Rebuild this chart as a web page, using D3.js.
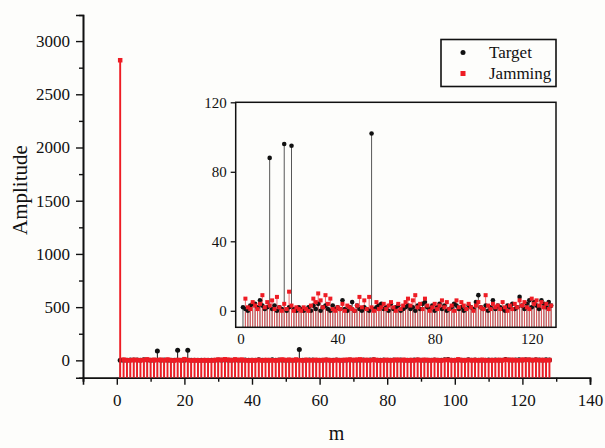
<!DOCTYPE html>
<html>
<head>
<meta charset="utf-8">
<script src="https://cdn.jsdelivr.net/npm/d3@7"></script>
<style>
  body { margin: 0; background: #fdfdfb; }
  svg { display: block; }
  svg text { font-family: "Liberation Serif", "DejaVu Serif", "Times New Roman", serif !important; fill: #111; }
</style>
</head>
<body>
<svg id="chart" width="605" height="448"></svg>
<script>
"use strict"

// m = 1..128
const target = [
    2, 1, 0, 3, 4, 4, 2, 6, 3, 1, 2, 88, 1, 3, 0, 2,
    1, 96, 0, 2, 95, 1, 0, 2, 1, 0, 1, 2, 0, 3, 1, 4,
    0, 2, 3, 1, 0, 3, 1, 2, 1, 6, 1, 0, 2, 5, 0, 3,
    1, 0, 2, 1, 0, 102, 1, 2, 3, 4, 1, 2, 0, 4, 1, 2,
    3, 0, 1, 2, 3, 1, 2, 0, 3, 1, 4, 5, 2, 1, 3, 0,
    2, 4, 1, 3, 0, 1, 2, 4, 3, 1, 2, 0, 1, 3, 2, 1,
    5, 9, 2, 1, 3, 0, 2, 6, 1, 3, 2, 1, 0, 3, 2, 4,
    1, 2, 8, 3, 1, 4, 6, 2, 5, 3, 1, 6, 4, 2, 5, 3
]
const jamming = [
    2820, 7, 2, 1, 5, 3, 1, 4, 9, 2, 5, 3, 6, 1, 8, 2,
    0, 4, 1, 11, 3, 0, 2, 1, 0, 2, 1, 0, 3, 7, 5, 10,
    6, 2, 9, 4, 7, 1, 0, 2, 1, 4, 0, 3, 2, 1, 0, 3,
    8, 2, 6, 1, 8, 2, 0, 5, 1, 2, 4, 1, 3, 5, 2, 0,
    4, 1, 3, 5, 7, 3, 6, 9, 2, 4, 1, 7, 3, 0, 2, 4,
    1, 3, 6, 2, 5, 1, 3, 0, 6, 2, 5, 3, 1, 4, 2, 0,
    3, 5, 2, 1, 9, 3, 1, 4, 2, 3, 1, 5, 2, 0, 3, 1,
    4, 2, 6, 3, 5, 2, 1, 7, 4, 6, 3, 5, 2, 4, 1, 3
]
const mainXTicks = [0, 20, 40, 60, 80, 100, 120, 140]
const mainYTicks = [0, 500, 1000, 1500, 2000, 2500, 3000]
const insetXTicks = [0, 40, 80, 120]
const insetYTicks = [0, 40, 80, 120]
const seriesNames = ["Target", "Jamming"]

const RED = "#ee1c24"
const BLACK = "#111"
const FONT = "'Liberation Serif', 'DejaVu Serif', serif"

const svg = d3.select("#chart")

const targetData = target.map((v, i) => ({ m: i + 1, v: v }))
const jammingData = jamming.map((v, i) => ({ m: i + 1, v: v }))

// ---------- main plot ----------
const x = d3.scaleLinear().domain([-10, 140]).range([83, 590])
const y = d3.scaleLinear().domain([-163, 3245]).range([377.7, 15])

function axisWithMinors(g, axisFn, scale, majors, step, size, minorSize) {
    const dom = scale.domain()
    const minors = d3.range(Math.ceil(dom[0] / step) * step, dom[1] + 1e-9, step)
        .filter(v => majors.indexOf(v) < 0)
    g.attr("font-family", FONT)
    g.append("g").call(axisFn(scale).tickValues(minors).tickSize(minorSize).tickFormat(""))
    g.append("g").call(axisFn(scale).tickValues(majors).tickSize(size).tickPadding(6).tickFormat(d3.format("d")))
    g.selectAll("g").attr("font-family", FONT)
    g.selectAll("path.domain").attr("stroke", BLACK).attr("stroke-width", 1.6)
    g.selectAll(".tick line").attr("stroke", BLACK).attr("stroke-width", 1.4)
    g.selectAll("text").attr("fill", "#111")
}

const gx = svg.append("g").attr("transform", "translate(0," + y.range()[0] + ")")
axisWithMinors(gx, d3.axisBottom, x, mainXTicks, 10, 7, 4)
gx.selectAll("text").attr("font-size", 17).attr("dy", "0.9em")

const gy = svg.append("g").attr("transform", "translate(" + x.range()[0] + ",0)")
axisWithMinors(gy, d3.axisLeft, y, mainYTicks, 250, 7, 4)
gy.selectAll("text").attr("font-size", 17)

svg.append("text")
    .attr("x", x(65)).attr("y", 440)
    .attr("text-anchor", "middle")
    .attr("font-size", 20)
    .text("m")

svg.append("text")
    .attr("transform", "translate(27," + y(1600) + ") rotate(-90)")
    .attr("text-anchor", "middle")
    .attr("font-size", 21)
    .text("Amplitude")

function drawStems(g, data, xs, ys, color, width) {
    const base = ys.domain()[0]
    g.append("g").selectAll("line")
        .data(data)
        .join("line")
        .attr("x1", d => xs(d.m)).attr("x2", d => xs(d.m))
        .attr("y1", ys(base)).attr("y2", d => ys(Math.min(d.v, ys.domain()[1])))
        .attr("stroke", color)
        .attr("stroke-width", width)
}

function drawDots(g, data, xs, ys, r) {
    g.append("g").selectAll("circle")
        .data(data)
        .join("circle")
        .attr("cx", d => xs(d.m)).attr("cy", d => ys(d.v))
        .attr("r", r)
        .attr("fill", BLACK)
}

function drawSquares(g, data, xs, ys, s) {
    g.append("g").selectAll("rect")
        .data(data)
        .join("rect")
        .attr("x", d => xs(d.m) - s / 2).attr("y", d => ys(d.v) - s / 2)
        .attr("width", s).attr("height", s)
        .attr("fill", RED)
}

const mainMarks = svg.append("g")
drawStems(mainMarks, targetData, x, y, BLACK, 1)
drawDots(mainMarks, targetData, x, y, 2.5)
drawStems(mainMarks, jammingData, x, y, RED, 1.9)
drawSquares(mainMarks, jammingData, x, y, 4.5)

// ---------- inset ----------
const xi = d3.scaleLinear().domain([-2, 130]).range([235.7, 556])
const yi = d3.scaleLinear().domain([-9.5, 120]).range([327.3, 102.3])

svg.append("defs").append("clipPath").attr("id", "inset-clip")
    .append("rect")
    .attr("x", xi.range()[0]).attr("y", yi.range()[1])
    .attr("width", xi.range()[1] - xi.range()[0])
    .attr("height", yi.range()[0] - yi.range()[1])

const inset = svg.append("g")
inset.append("rect")
    .attr("x", xi.range()[0]).attr("y", yi.range()[1])
    .attr("width", xi.range()[1] - xi.range()[0])
    .attr("height", yi.range()[0] - yi.range()[1])
    .attr("fill", "#fdfdfb")

const insetMarks = inset.append("g").attr("clip-path", "url(#inset-clip)")
const insetJam = jammingData.filter(d => d.v <= yi.domain()[1])
drawStems(insetMarks, targetData, xi, yi, "#444", 0.9)
drawStems(insetMarks, insetJam, xi, yi, "#f25a5f", 0.9)
drawDots(insetMarks, targetData, xi, yi, 2.3)
drawSquares(insetMarks, insetJam, xi, yi, 4)

inset.append("rect")
    .attr("x", xi.range()[0]).attr("y", yi.range()[1])
    .attr("width", xi.range()[1] - xi.range()[0])
    .attr("height", yi.range()[0] - yi.range()[1])
    .attr("fill", "none")
    .attr("stroke", BLACK)
    .attr("stroke-width", 1.5)

const giy = inset.append("g").attr("transform", "translate(" + xi.range()[0] + ",0)")
    .call(d3.axisLeft(yi).tickValues(insetYTicks).tickSize(5).tickPadding(4))
    .attr("font-family", FONT)
giy.select("path.domain").remove()
giy.selectAll(".tick line").attr("stroke", BLACK).attr("stroke-width", 1.3)
giy.selectAll("text").attr("font-size", 15).attr("fill", "#111")

const gix = inset.append("g").attr("transform", "translate(0," + yi.range()[0] + ")")
    .call(d3.axisBottom(xi).tickValues(insetXTicks).tickSize(0).tickPadding(6))
    .attr("font-family", FONT)
gix.select("path.domain").remove()
gix.selectAll("text").attr("font-size", 15).attr("fill", "#111")

// ---------- legend ----------
const legend = svg.append("g").attr("font-family", FONT)
legend.append("rect")
    .attr("x", 441).attr("y", 39.5).attr("width", 115).attr("height", 47)
    .attr("fill", "#fdfdfb").attr("stroke", BLACK).attr("stroke-width", 1.6)
const rows = legend.selectAll("g.row").data(seriesNames).join("g")
    .attr("class", "row")
    .attr("transform", (d, i) => "translate(463," + (52.5 + i * 21) + ")")
rows.filter((d, i) => i === 0).append("circle").attr("r", 2.5).attr("fill", BLACK)
rows.filter((d, i) => i === 1).append("rect")
    .attr("x", -2.5).attr("y", -2.5).attr("width", 5).attr("height", 5).attr("fill", RED)
rows.append("text")
    .attr("x", 26).attr("dy", "0.35em")
    .attr("font-size", 17)
    .text(d => d)
</script>
</body>
</html>
